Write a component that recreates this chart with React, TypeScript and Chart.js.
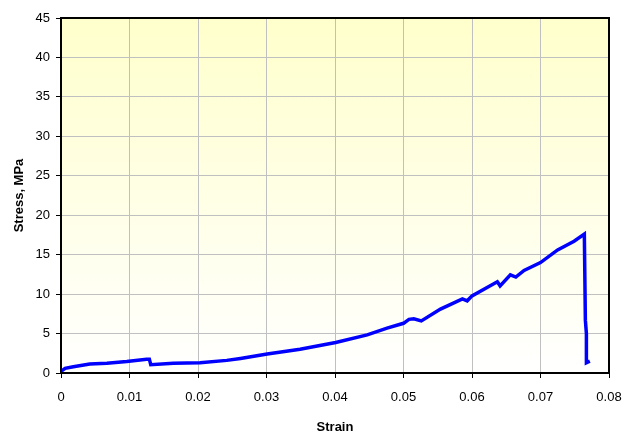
import React, { useEffect, useRef } from "react";
import { Chart, registerables } from "chart.js";

Chart.register(...registerables);

const strain = [0, 0.0006, 0.0018, 0.0042, 0.0067, 0.0096, 0.0125, 0.0129, 0.0131, 0.0164, 0.0203, 0.0242, 0.0262, 0.0301, 0.0349, 0.0401, 0.0447, 0.0476, 0.05, 0.0508, 0.0515, 0.0526, 0.0554, 0.0586, 0.0593, 0.06, 0.0637, 0.0641, 0.0656, 0.0664, 0.0676, 0.07, 0.0725, 0.0749, 0.0764, 0.07655, 0.0767, 0.0767, 0.0772];
const stress = [0.2, 0.6, 0.8, 1.15, 1.24, 1.45, 1.75, 1.75, 1.05, 1.24, 1.3, 1.6, 1.85, 2.4, 3.0, 3.86, 4.83, 5.68, 6.3, 6.8, 6.87, 6.6, 8.1, 9.4, 9.15, 9.78, 11.56, 11.05, 12.45, 12.16, 13.0, 14.0, 15.6, 16.7, 17.6, 6.7, 5.0, 1.3, 1.5];

const xTicks = [0, 0.01, 0.02, 0.03, 0.04, 0.05, 0.06, 0.07, 0.08];
const yTicks = [0, 5, 10, 15, 20, 25, 30, 35, 40, 45];

const FONT = "'Liberation Sans', Arial, sans-serif";

const bgPlugin = {
  id: "bgPlugin",
  beforeDraw(chart: any) {
    const { ctx, chartArea, width, height } = chart;
    ctx.save();
    ctx.fillStyle = "#ffffff";
    ctx.fillRect(0, 0, width, height);
    const g = ctx.createLinearGradient(0, chartArea.top, 0, chartArea.bottom);
    g.addColorStop(0, "#FFFFCC");
    g.addColorStop(1, "#FFFFFF");
    ctx.fillStyle = g;
    ctx.fillRect(chartArea.left, chartArea.top, chartArea.right - chartArea.left, chartArea.bottom - chartArea.top);
    ctx.restore();
  },
  afterDraw(chart: any) {
    const { ctx, chartArea } = chart;
    ctx.save();
    ctx.strokeStyle = "#000000";
    ctx.lineWidth = 2;
    ctx.strokeRect(chartArea.left, chartArea.top, chartArea.right - chartArea.left, chartArea.bottom - chartArea.top);
    ctx.restore();
  },
};

export default function App() {
  const ref = useRef<HTMLCanvasElement | null>(null);
  useEffect(() => {
    document.body.style.margin = "0";
    const canvas = ref.current!;
    const data = strain.map((x, i) => ({ x, y: stress[i] }));
    const chart = new Chart(canvas, {
      type: "scatter",
      data: {
        datasets: [
          {
            data,
            showLine: true,
            borderColor: "#0000FF",
            backgroundColor: "#0000FF",
            borderWidth: 3.5,
            pointRadius: 0,
            tension: 0,
          },
        ],
      },
      options: {
        responsive: false,
        animation: false,
        layout: { padding: { left: 0, right: 15, top: 18, bottom: 0 } },
        plugins: { legend: { display: false }, tooltip: { enabled: false } },
        scales: {
          x: {
            type: "linear",
            min: 0,
            max: 0.08,
            afterBuildTicks(scale: any) {
              scale.ticks = xTicks.map((v) => ({ value: v }));
            },
            afterFit(scale: any) {
              scale.height = 62;
              scale.paddingLeft = 0;
              scale.paddingRight = 0;
            },
            ticks: {
              color: "#000",
              font: { family: FONT, size: 13 },
              padding: 12,
              maxRotation: 0,
              autoSkip: false,
              callback: (v: any) => String(Number(Number(v).toFixed(2))),
            },
            grid: { color: "#C0C0C0", lineWidth: 1, tickColor: "#000", tickLength: 5 },
            border: { display: false },
            title: {
              display: true,
              text: "Strain",
              color: "#000",
              font: { family: FONT, size: 13, weight: "bold" },
              padding: { top: 0, bottom: 0 },
            },
          },
          y: {
            type: "linear",
            min: 0,
            max: 45,
            afterBuildTicks(scale: any) {
              scale.ticks = yTicks.map((v) => ({ value: v }));
            },
            afterFit(scale: any) {
              scale.width = 61;
              scale.paddingTop = 0;
              scale.paddingBottom = 0;
            },
            ticks: {
              color: "#000",
              font: { family: FONT, size: 13 },
              padding: 6,
              autoSkip: false,
            },
            grid: { color: "#C0C0C0", lineWidth: 1, tickColor: "#000", tickLength: 5 },
            border: { display: false },
            title: {
              display: true,
              text: "Stress, MPa",
              color: "#000",
              font: { family: FONT, size: 13, weight: "bold" },
              padding: { top: 12, bottom: 0 },
            },
          },
        },
      },
      plugins: [bgPlugin],
    });
    return () => chart.destroy();
  }, []);
  return (
    <div style={{ width: 624, height: 435 }}>
      <canvas ref={ref} width={624} height={435} style={{ display: "block", width: 624, height: 435 }} />
    </div>
  );
}
